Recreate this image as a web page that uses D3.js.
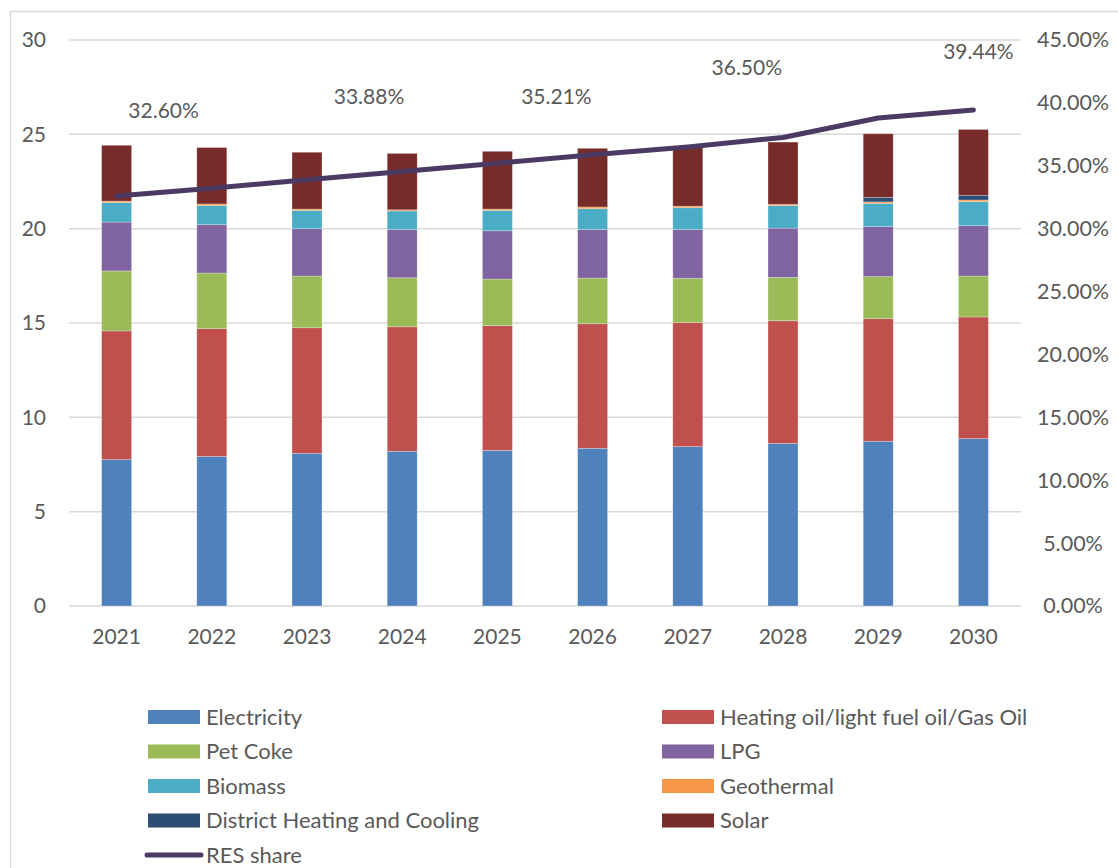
<!DOCTYPE html>
<html>
<head>
<meta charset="utf-8">
<script src="https://cdn.jsdelivr.net/npm/d3@7/dist/d3.min.js"></script>
<style>
  html, body { margin: 0; padding: 0; background: #fff; }
  svg { display: block; }
  text { font-family: Lato, "Open Sans", sans-serif; fill: #595959; }
</style>
</head>
<body>
<svg id="chart" width="1118" height="868"></svg>
<script>
// ---- data ----
const years = ["2021","2022","2023","2024","2025","2026","2027","2028","2029","2030"];
const seriesNames = ["Electricity","Heating oil/light fuel oil/Gas Oil","Pet Coke","LPG","Biomass","Geothermal","District Heating and Cooling","Solar"];
const electricity = [7.76, 7.93, 8.09, 8.20, 8.25, 8.36, 8.45, 8.62, 8.73, 8.87];
const heatingOil  = [6.82, 6.77, 6.66, 6.60, 6.61, 6.60, 6.57, 6.50, 6.50, 6.45];
const petCoke     = [3.18, 2.95, 2.74, 2.60, 2.47, 2.42, 2.35, 2.30, 2.23, 2.17];
const lpg         = [2.59, 2.56, 2.51, 2.55, 2.56, 2.57, 2.59, 2.61, 2.65, 2.67];
const biomass     = [1.03, 1.01, 0.97, 0.99, 1.08, 1.11, 1.15, 1.19, 1.23, 1.27];
const geothermal  = [0.08, 0.09, 0.07, 0.06, 0.07, 0.09, 0.08, 0.07, 0.08, 0.09];
const districtHC  = [0, 0, 0, 0, 0, 0, 0, 0, 0.24, 0.25];
const solar       = [2.96, 2.99, 3.01, 2.99, 3.06, 3.11, 3.10, 3.30, 3.37, 3.49];
const resShare    = [0.3260, 0.3322, 0.3388, 0.3455, 0.3521, 0.3588, 0.3650, 0.3725, 0.3880, 0.3944];
const resLabelIdx = [0, 2, 4, 6, 9];
const leftTicks   = [0, 5, 10, 15, 20, 25, 30];
const rightTicks  = [0, 0.05, 0.10, 0.15, 0.20, 0.25, 0.30, 0.35, 0.40, 0.45];

// ---- layout / style ----
const colors = ["#4F81BD","#C0504D","#9BBB59","#8064A2","#4BACC6","#F79646","#2C4D75","#772C2A"];
const lineColor = "#4B3A63";
const labelOffsets = [[47,-85],[62,-83],[59,-66],[59,-79],[5,-58]];
const plot = {left: 69, right: 1021, top: 40, bottom: 606};

const svg = d3.select("#chart");
const seriesValues = [electricity, heatingOil, petCoke, lpg, biomass, geothermal, districtHC, solar];
const table = years.map((y, i) => {
  const row = {year: y};
  seriesNames.forEach((n, k) => row[n] = seriesValues[k][i]);
  return row;
});
const stacked = d3.stack().keys(seriesNames)(table);

const x = d3.scaleBand().domain(years).range([plot.left, plot.right]).paddingInner(0.685).paddingOuter(0.3425);
const y = d3.scaleLinear().domain([0, 30]).range([plot.bottom, plot.top]);
const y2 = d3.scaleLinear().domain([0, 0.45]).range([plot.bottom, plot.top]);

// chart border
svg.append("rect").attr("x", 10.5).attr("y", 11.5).attr("width", 1130).attr("height", 880)
  .attr("fill", "none").attr("stroke", "#d9d9d9").attr("stroke-width", 1.5);

// gridlines
svg.append("g").selectAll("line").data(leftTicks).join("line")
  .attr("x1", plot.left).attr("x2", plot.right)
  .attr("y1", d => y(d)).attr("y2", d => y(d))
  .attr("stroke", "#d9d9d9").attr("stroke-width", 1.5);

// left axis
const yAxis = d3.axisLeft(y).tickValues(leftTicks).tickSize(0).tickPadding(0).tickFormat(d3.format("d"));
const gy = svg.append("g").attr("transform", `translate(46,0)`).call(yAxis);
gy.select(".domain").remove();
gy.selectAll("text").style("font-size", "21px").attr("fill", "#595959").attr("x", 0);

// right axis
const y2Axis = d3.axisRight(y2).tickValues(rightTicks).tickSize(0).tickPadding(0).tickFormat(d3.format(".2%"));
const gy2 = svg.append("g").attr("transform", `translate(1073,0)`).call(y2Axis);
gy2.select(".domain").remove();
gy2.selectAll("text").style("font-size", "21.5px").attr("fill", "#595959").attr("x", 0).attr("text-anchor", "middle");

// bottom axis
const xAxis = d3.axisBottom(x).tickSize(0).tickPadding(0);
const gx = svg.append("g").attr("transform", `translate(0,${plot.bottom})`).call(xAxis);
gx.select(".domain").remove();
gx.selectAll("text").style("font-size", "21px").attr("fill", "#595959").attr("y", 31).attr("dy", "0.32em");

// bars
svg.append("g").selectAll("g").data(stacked).join("g")
  .attr("fill", (d, i) => colors[i])
  .selectAll("rect").data(d => d).join("rect")
  .attr("x", d => x(d.data.year))
  .attr("width", x.bandwidth())
  .attr("y", d => y(d[1]))
  .attr("height", d => Math.max(0, y(d[0]) - y(d[1])))
  .attr("stroke", "rgba(255,255,255,0.35)").attr("stroke-width", 0.75);

// RES line
const line = d3.line().x((d, i) => x(years[i]) + x.bandwidth() / 2).y(d => y2(d));
svg.append("path").datum(resShare).attr("d", line)
  .attr("fill", "none").attr("stroke", lineColor).attr("stroke-width", 5)
  .attr("stroke-linecap", "round").attr("stroke-linejoin", "round");

// RES labels
svg.append("g").selectAll("text").data(resLabelIdx).join("text")
  .attr("x", (d, j) => x(years[d]) + x.bandwidth() / 2 + labelOffsets[j][0])
  .attr("y", (d, j) => y2(resShare[d]) + labelOffsets[j][1])
  .attr("text-anchor", "middle").attr("dy", "0.35em")
  .style("font-size", "21px")
  .text(d => d3.format(".2%")(resShare[d]));

// legend
const legendItems = [
  {name: seriesNames[0], color: colors[0], col: 0, row: 0},
  {name: seriesNames[1], color: colors[1], col: 1, row: 0},
  {name: seriesNames[2], color: colors[2], col: 0, row: 1},
  {name: seriesNames[3], color: colors[3], col: 1, row: 1},
  {name: seriesNames[4], color: colors[4], col: 0, row: 2},
  {name: seriesNames[5], color: colors[5], col: 1, row: 2},
  {name: seriesNames[6], color: colors[6], col: 0, row: 3},
  {name: seriesNames[7], color: colors[7], col: 1, row: 3},
  {name: "RES share", color: lineColor, col: 0, row: 4, isLine: true}
];
const colX = [148, 662];
const rowY0 = 717, rowStep = 34.5;
const lg = svg.append("g").selectAll("g").data(legendItems).join("g")
  .attr("transform", d => `translate(${colX[d.col]},${rowY0 + d.row * rowStep})`);
lg.filter(d => !d.isLine).append("rect")
  .attr("x", 0).attr("y", -7).attr("width", 52).attr("height", 14).attr("fill", d => d.color);
lg.filter(d => d.isLine).append("line")
  .attr("x1", -1).attr("x2", 53).attr("y1", 0).attr("y2", 0)
  .attr("stroke", d => d.color).attr("stroke-width", 5).attr("stroke-linecap", "round");
lg.append("text").attr("x", 58).attr("y", 0).attr("dy", "0.35em")
  .style("font-size", "22px").text(d => d.name);
</script>
</body>
</html>
